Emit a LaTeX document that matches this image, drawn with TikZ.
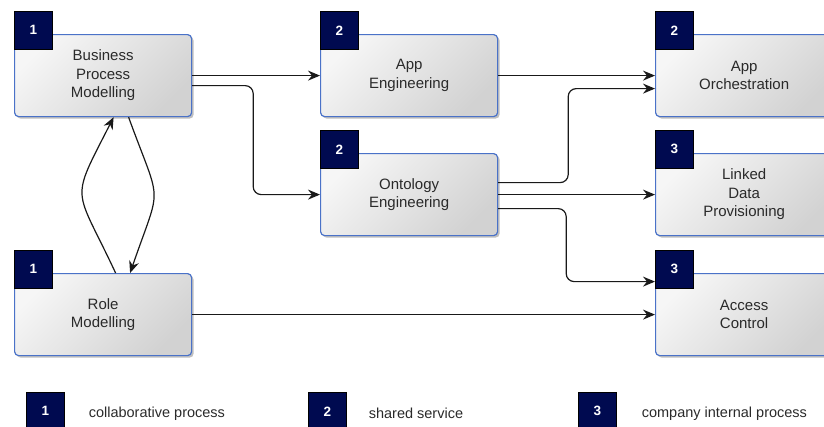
\documentclass[tikz,border=0pt]{standalone}
\usepackage{fontspec}
\setmainfont{Liberation Sans}
\usetikzlibrary{arrows.meta,shadows}
\definecolor{navy}{HTML}{000A50}
\definecolor{boxblue}{HTML}{4A72C8}
\definecolor{txt}{HTML}{2A2A2A}
\definecolor{boxlight}{HTML}{F6F6F6}
\definecolor{boxdark}{HTML}{D2D2D2}
\tikzset{
  procbox/.style={draw=boxblue, line width=1.2pt, rounded corners=4pt,
    minimum width=177pt, minimum height=82pt, anchor=north west, inner sep=2pt,
    top color=boxlight, bottom color=boxdark, shading angle=45,
    drop shadow={shadow xshift=2pt, shadow yshift=-2pt, opacity=0.25, fill=black},
    align=center, text=txt, font=\fontsize{15}{18.5}\selectfont},
  badge/.style={draw=black, line width=0.6pt, fill=navy, minimum size=38pt,
    inner sep=0pt, anchor=north west, text=white,
    font=\bfseries\fontsize{13.5}{15}\selectfont},
  legtext/.style={anchor=west, inner sep=0pt, text=txt,
    font=\fontsize{14.5}{17}\selectfont},
  arr/.style={-{Stealth[length=12pt,width=10pt,inset=4pt]}, line width=1.2pt, draw=black!90},
}
\begin{document}
\begin{tikzpicture}[x=1pt,y=-1pt]
\useasboundingbox (0,0) rectangle (824,426);
% boxes
\node[procbox] (bpm) at (14,34) {Business\\Process\\Modelling};
\node[procbox] (rm)  at (14,273) {Role\\Modelling};
\node[procbox] (ae)  at (320,34) {App\\Engineering};
\node[procbox] (oe)  at (320,153) {Ontology\\Engineering};
\node[procbox] (ao)  at (655,34) {App\\Orchestration};
\node[procbox] (ld)  at (655,153) {Linked\\Data\\Provisioning};
\node[procbox] (ac)  at (655,273) {Access\\Control};
% badges
\node[badge] (bbpm) at (bpm.north west) [yshift=23pt] {1};
\node[badge] (brm)  at (rm.north west) [yshift=23pt] {1};
\node[badge] (bae)  at (ae.north west) [yshift=23pt] {2};
\node[badge] (boe)  at (oe.north west) [yshift=23pt] {2};
\node[badge] (bao)  at (ao.north west) [yshift=23pt] {2};
\node[badge] (bld)  at (ld.north west) [yshift=23pt] {3};
\node[badge] (bac)  at (ac.north west) [yshift=23pt] {3};
% connectors
\draw[arr] (bpm.east) -- (ae.west);
\draw[arr, rounded corners=8pt] ([yshift=-10pt]bpm.east) -- ++(61,0) |- (oe.west);
\draw[arr] (ae.east) -- (ao.west);
\draw[arr, rounded corners=8pt] ([yshift=12pt]oe.east) -- ++(70,0) |- ([yshift=-13pt]ao.west);
\draw[arr] (oe.east) -- (ld.west);
\draw[arr, rounded corners=8pt] ([yshift=-14pt]oe.east) -- ++(68,0) |- ([yshift=33pt]ac.west);
\draw[arr] (rm.east) -- (ac.west);
\draw[arr] ([xshift=12.5pt]rm.north) to[out=115,in=243,looseness=1.6] ([xshift=10.5pt]bpm.south);
\draw[arr] ([xshift=25.5pt]bpm.south) to[out=290,in=71,looseness=1.6] ([xshift=27pt]rm.north);
% legend
\node[badge] (l1) at (26,392) {1};
\node[legtext] (l1t) at ([xshift=24pt,yshift=-2pt]l1.east) {collaborative process};
\node[badge] (l2) at (308,392) {2};
\node[legtext] (l2t) at ([xshift=22pt,yshift=-2pt]l2.east) {shared service};
\node[badge] (l3) at (578,392) {3};
\node[legtext] (l3t) at ([xshift=25pt,yshift=-2pt]l3.east) {company internal process};
\end{tikzpicture}
\end{document}
